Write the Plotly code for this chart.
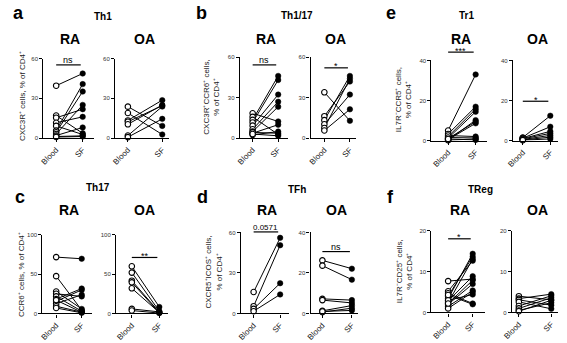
import plotly.graph_objects as go

W, H = 567, 343
FONT = "Arial, Liberation Sans, Helvetica, sans-serif"

# ---------------- data ----------------
# a: Th1
th1_RA_blood = [39.5, 17, 15.3, 11.6, 9.2, 5.6, 4.4, 3.1, 1.9, 1.2, 0.8]
th1_RA_sf    = [48.7, 3.6, 21.8, 16, 2.7, 40.7, 35.1, 25, 8, 1.7, 1.2]
th1_OA_blood = [23.7, 18.9, 13.3, 12.3, 10.4, 1.9, 0.7]
th1_OA_sf    = [9.2, 2.7, 28.6, 24.5, 24.9, 23.8, 14.5]
# b: Th1/17
th117_RA_blood = [18.4, 15.7, 13.5, 11.6, 9.2, 6.5, 4.8, 3.6, 2.4, 4.2, 3.0]
th117_RA_sf    = [12.3, 2.7, 46, 43, 32.2, 26.9, 23.2, 9.9, 4.8, 3.6, 1.7]
th117_OA_blood = [33.9, 16.2, 13.3, 10.2, 7.5, 5.6]
th117_OA_sf    = [12.8, 41.9, 46, 32.2, 44, 21.3]
# e: Tr1
tr1_RA_blood = [5, 3.3, 2, 1.2, 0.3, 1, 0.5, 2.5, 1.5, 0.2, 0.8]
tr1_RA_sf    = [33, 16.9, 15.7, 14.4, 10.2, 9.4, 8.6, 2, 1.3, 0.8, 0.3]
tr1_OA_blood = [1.5, 1.2, 1.0, 0.8, 0.5, 0.3, 0.2]
tr1_OA_sf    = [12.4, 6.9, 4.6, 3.6, 2.6, 1.7, 0.8]
# c: Th17
th17_RA_blood = [71.7, 47.5, 27.9, 25, 21.7, 18.3, 15.4, 12.5, 9.2, 7, 17]
th17_RA_sf    = [69.6, 4.2, 5.8, 21.7, 2.9, 31.7, 30, 23.8, 1.7, 0.8, 1.5]
th17_OA_blood = [60, 52, 41.7, 39.6, 32, 5.8, 3.75]
th17_OA_sf    = [8.3, 2.9, 1.7, 0.8, 1.2, 2.0, 0.5]
# d: TFh
tfh_RA_blood = [15.9, 5.4, 3.4, 1.7]
tfh_RA_sf    = [56, 50.5, 22.4, 14.1]
tfh_OA_blood = [26.2, 23.6, 7.2, 6.6, 1.3, 0.7, 1.0]
tfh_OA_sf    = [22.1, 16.7, 6.6, 5.2, 3.9, 2.6, 1.5]
# f: TReg
treg_RA_blood = [7.7, 5.2, 4.7, 4.0, 3.4, 2.8, 2.4, 2.0, 1.5, 1.0, 3.0, 2.2, 4.3]
treg_RA_sf    = [8.2, 12.7, 2.2, 13.7, 14.4, 8.9, 13.1, 7.0, 5.4, 5.0, 4.4, 7.9, 2.0]
treg_OA_blood = [4.0, 3.4, 3.1, 2.6, 1.6, 1.0, 0.5, 0.3]
treg_OA_sf    = [3.1, 4.5, 1.8, 0.9, 4.1, 3.6, 2.4, 3.0]

x_labels = ["Blood", "SF"]

# ---------------- layout specs (pixels) ----------------
panels = [
    dict(blood=th1_RA_blood, sf=th1_RA_sf, L=34, B=47, S=74, E=85, top=56.5, bot=137.5, ymax=60, name="RA", sig="ns", barpx=63),
    dict(blood=th1_OA_blood, sf=th1_OA_sf, L=107, B=120, S=155, E=162, top=56.5, bot=137.5, ymax=60, name="OA"),
    dict(blood=th117_RA_blood, sf=th117_RA_sf, L=234, B=247, S=273, E=283, top=55, bot=137.5, ymax=60, name="RA", sig="ns", barpx=63),
    dict(blood=th117_OA_blood, sf=th117_OA_sf, L=306, B=320, S=346, E=352, top=55, bot=137.5, ymax=60, name="OA", sig="*", barpx=66),
    dict(blood=tr1_RA_blood, sf=tr1_RA_sf, L=429, B=446, S=474, E=486, top=58.5, bot=140, ymax=40, name="RA", sig="***", barpx=50),
    dict(blood=tr1_OA_blood, sf=tr1_OA_sf, L=512, B=522, S=550, E=558, top=58.5, bot=140, ymax=40, name="OA", sig="*", barpx=100),
    dict(blood=th17_RA_blood, sf=th17_RA_sf, L=33, B=47, S=73, E=83, top=236, bot=316, ymax=100, name="RA"),
    dict(blood=th17_OA_blood, sf=th17_OA_sf, L=108, B=124, S=152, E=161, top=236, bot=316, ymax=100, name="OA", sig="**", barpx=259),
    dict(blood=tfh_RA_blood, sf=tfh_RA_sf, L=235, B=248, S=275, E=284, top=233.5, bot=316, ymax=60, name="RA", sig="0.0571", barpx=233),
    dict(blood=tfh_OA_blood, sf=tfh_OA_sf, L=306, B=318, S=348, E=354, top=233.5, bot=316, ymax=40, name="OA", sig="ns", barpx=253),
    dict(blood=treg_RA_blood, sf=treg_RA_sf, L=429, B=446, S=471, E=484, top=232, bot=315, ymax=20, name="RA", sig="*", barpx=240),
    dict(blood=treg_OA_blood, sf=treg_OA_sf, L=511, B=518, S=551, E=558, top=232, bot=315, ymax=20, name="OA"),
]

fig = go.Figure()
annotations = []
shapes = []


def px_x(p):
    return p / W


def px_y(p):
    return 1 - p / H


def label(text, x, y, size, angle=0, color="black"):
    return dict(text=text, xref="paper", yref="paper", x=px_x(x), y=px_y(y),
                xanchor="center", yanchor="middle", textangle=angle, showarrow=False,
                font=dict(size=size, family=FONT, color=color))


for i, p in enumerate(panels, start=1):
    sx = "" if i == 1 else str(i)
    xref, yref = "x" + sx, "y" + sx
    lx, ly = [], []
    for b, s in zip(p["blood"], p["sf"]):
        lx += [0, 1, None]
        ly += [b, s, None]
    fig.add_trace(go.Scatter(x=lx, y=ly, mode="lines", xaxis=xref, yaxis=yref,
                             line=dict(color="black", width=1), hoverinfo="skip",
                             cliponaxis=False))
    fig.add_trace(go.Scatter(x=[0] * len(p["blood"]), y=p["blood"], mode="markers",
                             xaxis=xref, yaxis=yref, cliponaxis=False,
                             marker=dict(size=5.5, color="white", line=dict(color="black", width=1.1))))
    fig.add_trace(go.Scatter(x=[1] * len(p["sf"]), y=p["sf"], mode="markers",
                             xaxis=xref, yaxis=yref, cliponaxis=False,
                             marker=dict(size=5.5, color="black", line=dict(color="black", width=0.5))))
    unit = p["S"] - p["B"]
    fig.layout["xaxis" + sx] = dict(
        domain=[px_x(p["L"]), px_x(p["E"])],
        range=[(p["L"] - p["B"]) / unit, (p["E"] - p["B"]) / unit],
        anchor=yref, showline=True, linecolor="black", linewidth=1.3,
        ticks="outside", ticklen=3, tickwidth=1, tickcolor="black",
        tickvals=[0, 1], ticktext=x_labels, tickangle=-45,
        tickfont=dict(size=8, color="#222", family=FONT),
        showgrid=False, zeroline=False, fixedrange=True)
    fig.layout["yaxis" + sx] = dict(
        domain=[px_y(p["bot"]), px_y(p["top"])],
        range=[0, p["ymax"]], anchor=xref, showline=True, linecolor="black", linewidth=1.3,
        ticks="outside", ticklen=3, tickwidth=1, tickcolor="black",
        tickvals=[0, p["ymax"] / 2, p["ymax"]],
        tickfont=dict(size=6, color="#333", family=FONT),
        showgrid=False, zeroline=False, fixedrange=True)
    row_title_y = 37 if p["top"] < 100 else 211
    annotations.append(label("<b>%s</b>" % p["name"], (p["L"] + p["E"]) / 2 + 2, row_title_y, 14))
    if p.get("sig"):
        shapes.append(dict(type="line", xref="paper", yref="paper",
                           x0=px_x(p["B"]), x1=px_x(p["S"] - 2),
                           y0=px_y(p["barpx"]), y1=px_y(p["barpx"]),
                           line=dict(color="black", width=1.2)))
        fs = 8 if p["sig"] == "0.0571" else 9
        ty = p["barpx"] - (5 if p["sig"] in ("ns", "0.0571") else 1.5)
        annotations.append(label(p["sig"], (p["B"] + p["S"] - 2) / 2, ty, fs))

letters = [("a", 9, 10), ("b", 195, 10), ("e", 388, 10), ("c", 10, 197), ("d", 196, 197), ("f", 387, 197)]
for t, x, y in letters:
    annotations.append(label("<b>%s</b>" % t, x, y, 18))

groups = [("Th1", 95, 14), ("Th1/17", 292, 13), ("Tr1", 465, 13), ("Th17", 90, 188), ("TFh", 292, 190), ("TReg", 479, 190)]
for t, x, y in groups:
    annotations.append(label("<b>%s</b>" % t, x, y, 10))

ytitles = [("CXC3R⁺ cells, % of CD4⁺", 13, 95),
           ("CXC3R⁺CCR6⁺ cells,<br>% of CD4⁺", 205, 96),
           ("IL7R⁻CCR5⁺ cells,<br>% of CD4⁺", 400, 98),
           ("CCR6⁺ cells, % of CD4⁺", 11, 276),
           ("CXCR5⁺ICOS⁺ cells,<br>% of CD4⁺", 207, 274),
           ("IL7R⁻CD25⁺ cells,<br>% of CD4⁺", 401, 273)]
for t, x, y in ytitles:
    annotations.append(label(t, x, y, 8, angle=-90, color="#222"))

fig.update_layout(width=W, height=H, margin=dict(l=0, r=0, t=0, b=0),
                  paper_bgcolor="white", plot_bgcolor="white", showlegend=False,
                  annotations=annotations, shapes=shapes,
                  font=dict(family=FONT))

fig.write_html("out.html", config={"displayModeBar": False},
               post_script="document.body.style.margin='0px';document.body.style.padding='0px';")
